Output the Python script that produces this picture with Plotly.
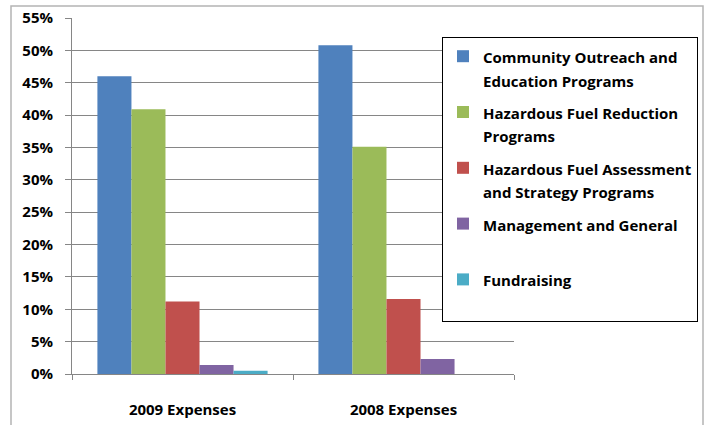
import plotly.graph_objects as go

categories = ["2009 Expenses", "2008 Expenses"]
series_names = [
    ["Community Outreach and", "Education Programs"],
    ["Hazardous Fuel Reduction", "Programs"],
    ["Hazardous Fuel Assessment", "and Strategy Programs"],
    ["Management and General", " "],
    ["Fundraising", " "],
]
community = [0.460, 0.508]
fuel_reduction = [0.409, 0.351]
fuel_assessment = [0.112, 0.116]
management = [0.014, 0.023]
fundraising = [0.005, 0.0]
colors = ["#4F81BD", "#9BBB59", "#C0504D", "#8064A2", "#4BACC6"]
y_ticks = [0, 0.05, 0.10, 0.15, 0.20, 0.25, 0.30, 0.35, 0.40, 0.45, 0.50, 0.55]

FONT = "Open Sans"
TXT = 15


def legend_label(lines):
    return "<br>".join(f"<span style='font-size:{TXT}px'>{ln}</span>" for ln in lines)


fig = go.Figure()
for i, (name, vals) in enumerate(zip(series_names,
                                     [community, fuel_reduction, fuel_assessment, management, fundraising])):
    fig.add_trace(go.Bar(x=categories, y=vals, name=legend_label(name),
                         marker=dict(color=colors[i], line=dict(width=0)),
                         legendgroup=f"g{i}"))

fig.update_layout(
    width=707, height=425,
    margin=dict(l=72, r=193, t=18, b=51, autoexpand=False),
    paper_bgcolor="white", plot_bgcolor="white",
    barmode="group", bargap=0.23, bargroupgap=0,
    font=dict(family=FONT, size=TXT, color="black", weight="bold"),
    showlegend=True,
    legend=dict(x=(442 - 72) / 442, y=(374 - 37) / 356, xanchor="left", yanchor="top",
                bgcolor="white", bordercolor="black", borderwidth=1,
                font=dict(family=FONT, size=18, color="black", weight="bold"),
                valign="top", traceorder="grouped", tracegroupgap=6,
                itemwidth=30),
    xaxis=dict(showline=True, linecolor="#868686", linewidth=1, ticks="outside", tickson="boundaries",
               ticklen=5, tickcolor="#868686", ticklabelstandoff=22, automargin=False,
               tickfont=dict(family=FONT, size=TXT, color="black", weight="bold")),
    yaxis=dict(range=[0, 0.55], tickvals=y_ticks, tickformat=".0%", showgrid=True, gridcolor="#868686",
               gridwidth=1, showline=True, linecolor="#868686", linewidth=1, ticks="outside",
               ticklen=6, tickcolor="#868686", ticklabelstandoff=9, zeroline=False, automargin=False,
               tickfont=dict(family=FONT, size=TXT, color="black", weight="bold")),
    shapes=[dict(type="rect", xref="paper", yref="paper",
                 x0=(11 - 72) / 442, x1=(703 - 72) / 442, y0=(374 - 440) / 356, y1=(374 - 6) / 356,
                 line=dict(color="#B4B4B4", width=1.5), fillcolor="rgba(0,0,0,0)", layer="below")],
)
fig.write_html("out.html", config={"displayModeBar": False},
               post_script="document.body.style.margin='0';")
